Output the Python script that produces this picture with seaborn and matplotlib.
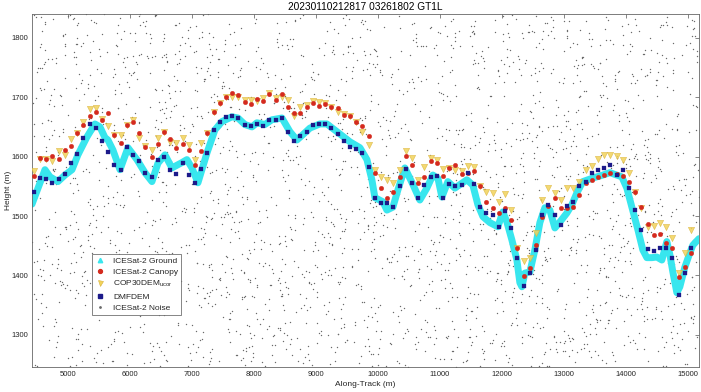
import numpy as np
import pandas as pd
import matplotlib
matplotlib.use("Agg")
import matplotlib.pyplot as plt
from matplotlib.lines import Line2D
import seaborn as sns

# ---------------- data ----------------
title = "20230110212817 03261802 GT1L"
xlabel = "Along-Track (m)"
ylabel = "Height (m)"
x_ticks = [5000, 6000, 7000, 8000, 9000, 10000, 11000, 12000, 13000, 14000, 15000]
y_ticks = [1300, 1400, 1500, 1600, 1700, 1800]
x_lim = (4420, 15180)
y_lim = (1246, 1840)

# ICESat-2 ground profile (along-track, height)
ground_x = [4420, 4629, 4710, 4839, 4952, 5065, 5161, 5306, 5435, 5516, 5597, 5645, 5726, 5839,
            5968, 6113, 6242, 6355, 6452, 6565, 6677, 6839, 6919, 7000, 7097, 7242, 7371, 7484,
            7645, 7742, 7855, 7968, 8048, 8177, 8290, 8452, 8581, 8694, 8790, 8903, 9065, 9177,
            9339, 9548, 9710, 9823, 9903, 9952, 10081, 10145, 10242, 10323, 10435, 10565, 10677,
            10790, 10887, 10970, 11032, 11129, 11242, 11435, 11532, 11613, 11694, 11806, 11935,
            12016, 12081, 12161, 12242, 12290, 12323, 12371, 12452, 12532, 12613, 12694, 12774,
            12855, 12935, 13048, 13129, 13210, 13306, 13468, 13629, 13742, 13935, 14016, 14097,
            14194, 14274, 14339, 14419, 14500, 14581, 14661, 14710, 14758, 14823, 14871, 14952,
            15032, 15081, 15180]
ground_h = [1520, 1578, 1566, 1558, 1569, 1578, 1603, 1633, 1655, 1650, 1632, 1628, 1611, 1578,
            1615, 1595, 1573, 1558, 1589, 1603, 1581, 1590, 1595, 1581, 1556, 1606, 1645, 1659,
            1667, 1665, 1654, 1650, 1657, 1654, 1662, 1665, 1642, 1628, 1637, 1648, 1655, 1655,
            1642, 1625, 1615, 1595, 1561, 1531, 1524, 1510, 1515, 1544, 1581, 1553, 1527,
            1547, 1569, 1563, 1532, 1558, 1547, 1561, 1552, 1519, 1499, 1489, 1482,
            1507, 1490, 1460, 1426, 1388, 1381, 1404, 1406, 1443, 1489, 1514, 1510,
            1480, 1490, 1505, 1519, 1539, 1558, 1564, 1569, 1573, 1566, 1547, 1515,
            1477, 1443, 1430, 1430, 1431, 1426, 1457, 1435, 1406, 1371, 1381, 1414,
            1438, 1451, 1462]

# 100 m segment centres for the DEM / canopy samples
seg_x = np.arange(4450, 15150, 100)

canopy_h = [1568, 1597, 1596, 1601, 1596, 1611, 1618, 1640, 1654, 1669, 1675, 1661, 1673, 1637,
            1623, 1653, 1659, 1640, 1617, 1600, 1622, 1641, 1629, 1614, 1622, 1611, 1586, 1610,
            1640, 1675, 1691, 1701, 1707, 1704, 1692, 1688, 1697, 1693, 1706, 1696, 1705, 1684,
            1674, 1673, 1684, 1690, 1686, 1688, 1683, 1681, 1670, 1668, 1659, 1651, 1634, 1572,
            1547, 1530, 1540, 1565, 1601, 1586, 1555, 1566, 1592, 1589, 1567, 1581, 1586, 1570,
            1573, 1575, 1550, 1524, 1513, 1505, 1513, 1494, 1446, 1399, 1412, 1451, 1499, 1517,
            1530, 1513, 1513, 1515, 1536, 1556, 1561, 1565, 1569, 1572, 1571, 1567, 1557, 1541,
            1516, 1486, 1468, 1470, 1454, 1446, 1398, 1415, 1437]

cop_h = [1575, 1596, 1596, 1592, 1610, 1603, 1629, 1640, 1659, 1680, 1682, 1663, 1652, 1637,
         1637, 1654, 1661, 1631, 1618, 1611, 1631, 1641, 1625, 1623, 1631, 1620, 1595, 1623,
         1640, 1675, 1691, 1701, 1701, 1701, 1696, 1695, 1693, 1698, 1707, 1698, 1701, 1695,
         1668, 1684, 1687, 1694, 1692, 1690, 1683, 1675, 1671, 1669, 1658, 1642, 1620, 1578,
         1565, 1561, 1555, 1578, 1609, 1597, 1561, 1583, 1597, 1595, 1579, 1581, 1578, 1575,
         1584, 1582, 1551, 1540, 1538, 1524, 1537, 1510, 1446, 1425, 1429, 1471, 1527, 1547,
         1538, 1527, 1547, 1547, 1558, 1578, 1584, 1596, 1603, 1603, 1601, 1595, 1573, 1541,
         1513, 1482, 1483, 1488, 1482, 1463, 1404, 1437, 1477]

dmf_h = [1541, 1564, 1563, 1556, 1563, 1570, 1589, 1605, 1631, 1655, 1648, 1626, 1607, 1586,
         1578, 1617, 1603, 1592, 1572, 1565, 1595, 1600, 1578, 1570, 1589, 1569, 1555, 1579,
         1606, 1645, 1658, 1666, 1668, 1665, 1654, 1652, 1655, 1652, 1662, 1662, 1665, 1642,
         1627, 1634, 1641, 1654, 1655, 1655, 1648, 1638, 1627, 1616, 1613, 1606, 1582, 1531,
         1522, 1522, 1516, 1550, 1580, 1555, 1531, 1552, 1565, 1567, 1530, 1554, 1551, 1553,
         1572, 1554, 1516, 1505, 1502, 1482, 1509, 1480, 1429, 1382, 1404, 1443, 1502, 1519,
         1502, 1485, 1517, 1524, 1550, 1558, 1573, 1577, 1581, 1586, 1569, 1578, 1547, 1510,
         1476, 1444, 1441, 1446, 1447, 1429, 1367, 1405, 1446]

labels = ["ICESat-2 Ground", "ICESat-2 Canopy", "COP30DEM$_{ucor}$", "DMFDEM", "ICESat-2 Noise"]

# background noise photons (uniform scatter over the window; seeded)
rng = np.random.default_rng(7)
n_noise = 2600
noise_x = rng.uniform(x_lim[0], x_lim[1], n_noise)
noise_h = rng.uniform(y_lim[0], y_lim[1], n_noise)

# ---------------- style ----------------
sns.set_style("white")
plt.rcParams["font.family"] = ["Liberation Sans", "DejaVu Sans"]
plt.rcParams["mathtext.fontset"] = "custom"
plt.rcParams["mathtext.rm"] = "Liberation Sans"
plt.rcParams["mathtext.it"] = "Liberation Sans"

c_ground = "#38E6EE"
c_canopy = "#D42A1E"
c_cop = "#F2D35A"
c_dmf = "#1C1A8A"
c_noise = "#6A6A6A"
txt = "#262626"

fig = plt.figure(figsize=(7.01, 3.92), dpi=100)
ax = fig.add_axes([32 / 701, 25 / 392, 667 / 701, 353 / 392])

sns.scatterplot(x=noise_x, y=noise_h, ax=ax, color=c_noise, s=1.0, marker="o",
                linewidth=0, zorder=1, legend=False)
sns.lineplot(x=ground_x, y=ground_h, ax=ax, color=c_ground, linewidth=5.0,
             zorder=2, legend=False, sort=False, estimator=None)
sns.scatterplot(x=seg_x, y=cop_h, ax=ax, color=c_cop, marker="v", s=20,
                edgecolor="#D9B23A", linewidth=0.4, alpha=0.85, zorder=3, legend=False)
sns.scatterplot(x=seg_x, y=canopy_h, ax=ax, color=c_canopy, marker="o", s=11,
                edgecolor=c_canopy, linewidth=0.2, zorder=4, legend=False)
sns.scatterplot(x=seg_x, y=dmf_h, ax=ax, color=c_dmf, marker="s", s=9,
                edgecolor=c_dmf, linewidth=0.2, zorder=5, legend=False)

ax.set_xlim(*x_lim)
ax.set_ylim(*y_lim)
ax.set_xticks(x_ticks)
ax.set_yticks(y_ticks)
ax.tick_params(direction="in", length=3, width=0.5, colors="#555555",
               labelcolor=txt, labelsize=5.5, top=True, right=True, pad=3)
for s in ax.spines.values():
    s.set_color("#666666")
    s.set_linewidth(0.6)
ax.set_xlabel(xlabel, fontsize=6, color=txt, labelpad=2)
ax.set_ylabel(ylabel, fontsize=6, color=txt)
ax.yaxis.set_label_coords(-0.0345, 0.5)
ax.yaxis.label.set_verticalalignment("center")
ax.set_title(title, fontsize=7.3, color="black", pad=3)

handles = [
    Line2D([], [], linestyle="none", marker="^", markersize=3.2, color=c_ground),
    Line2D([], [], linestyle="none", marker="o", markersize=2.8, color=c_canopy),
    Line2D([], [], linestyle="none", marker="v", markersize=3.6, color=c_cop,
           markeredgecolor="#D9B23A", markeredgewidth=0.4),
    Line2D([], [], linestyle="none", marker="s", markersize=2.6, color=c_dmf),
    Line2D([], [], linestyle="none", marker="o", markersize=1.0, color=c_noise),
]
leg = ax.legend(handles, labels, loc="upper left", bbox_to_anchor=(0.0895, 0.32),
                fontsize=6, frameon=True, fancybox=False, edgecolor="#555555",
                framealpha=1, borderpad=0.35, labelspacing=0.4, handlelength=1.2,
                handletextpad=1.0, borderaxespad=0)
leg.get_frame().set_linewidth(0.5)
for t in leg.get_texts():
    t.set_color(txt)

fig.savefig("out.png", dpi=100)
